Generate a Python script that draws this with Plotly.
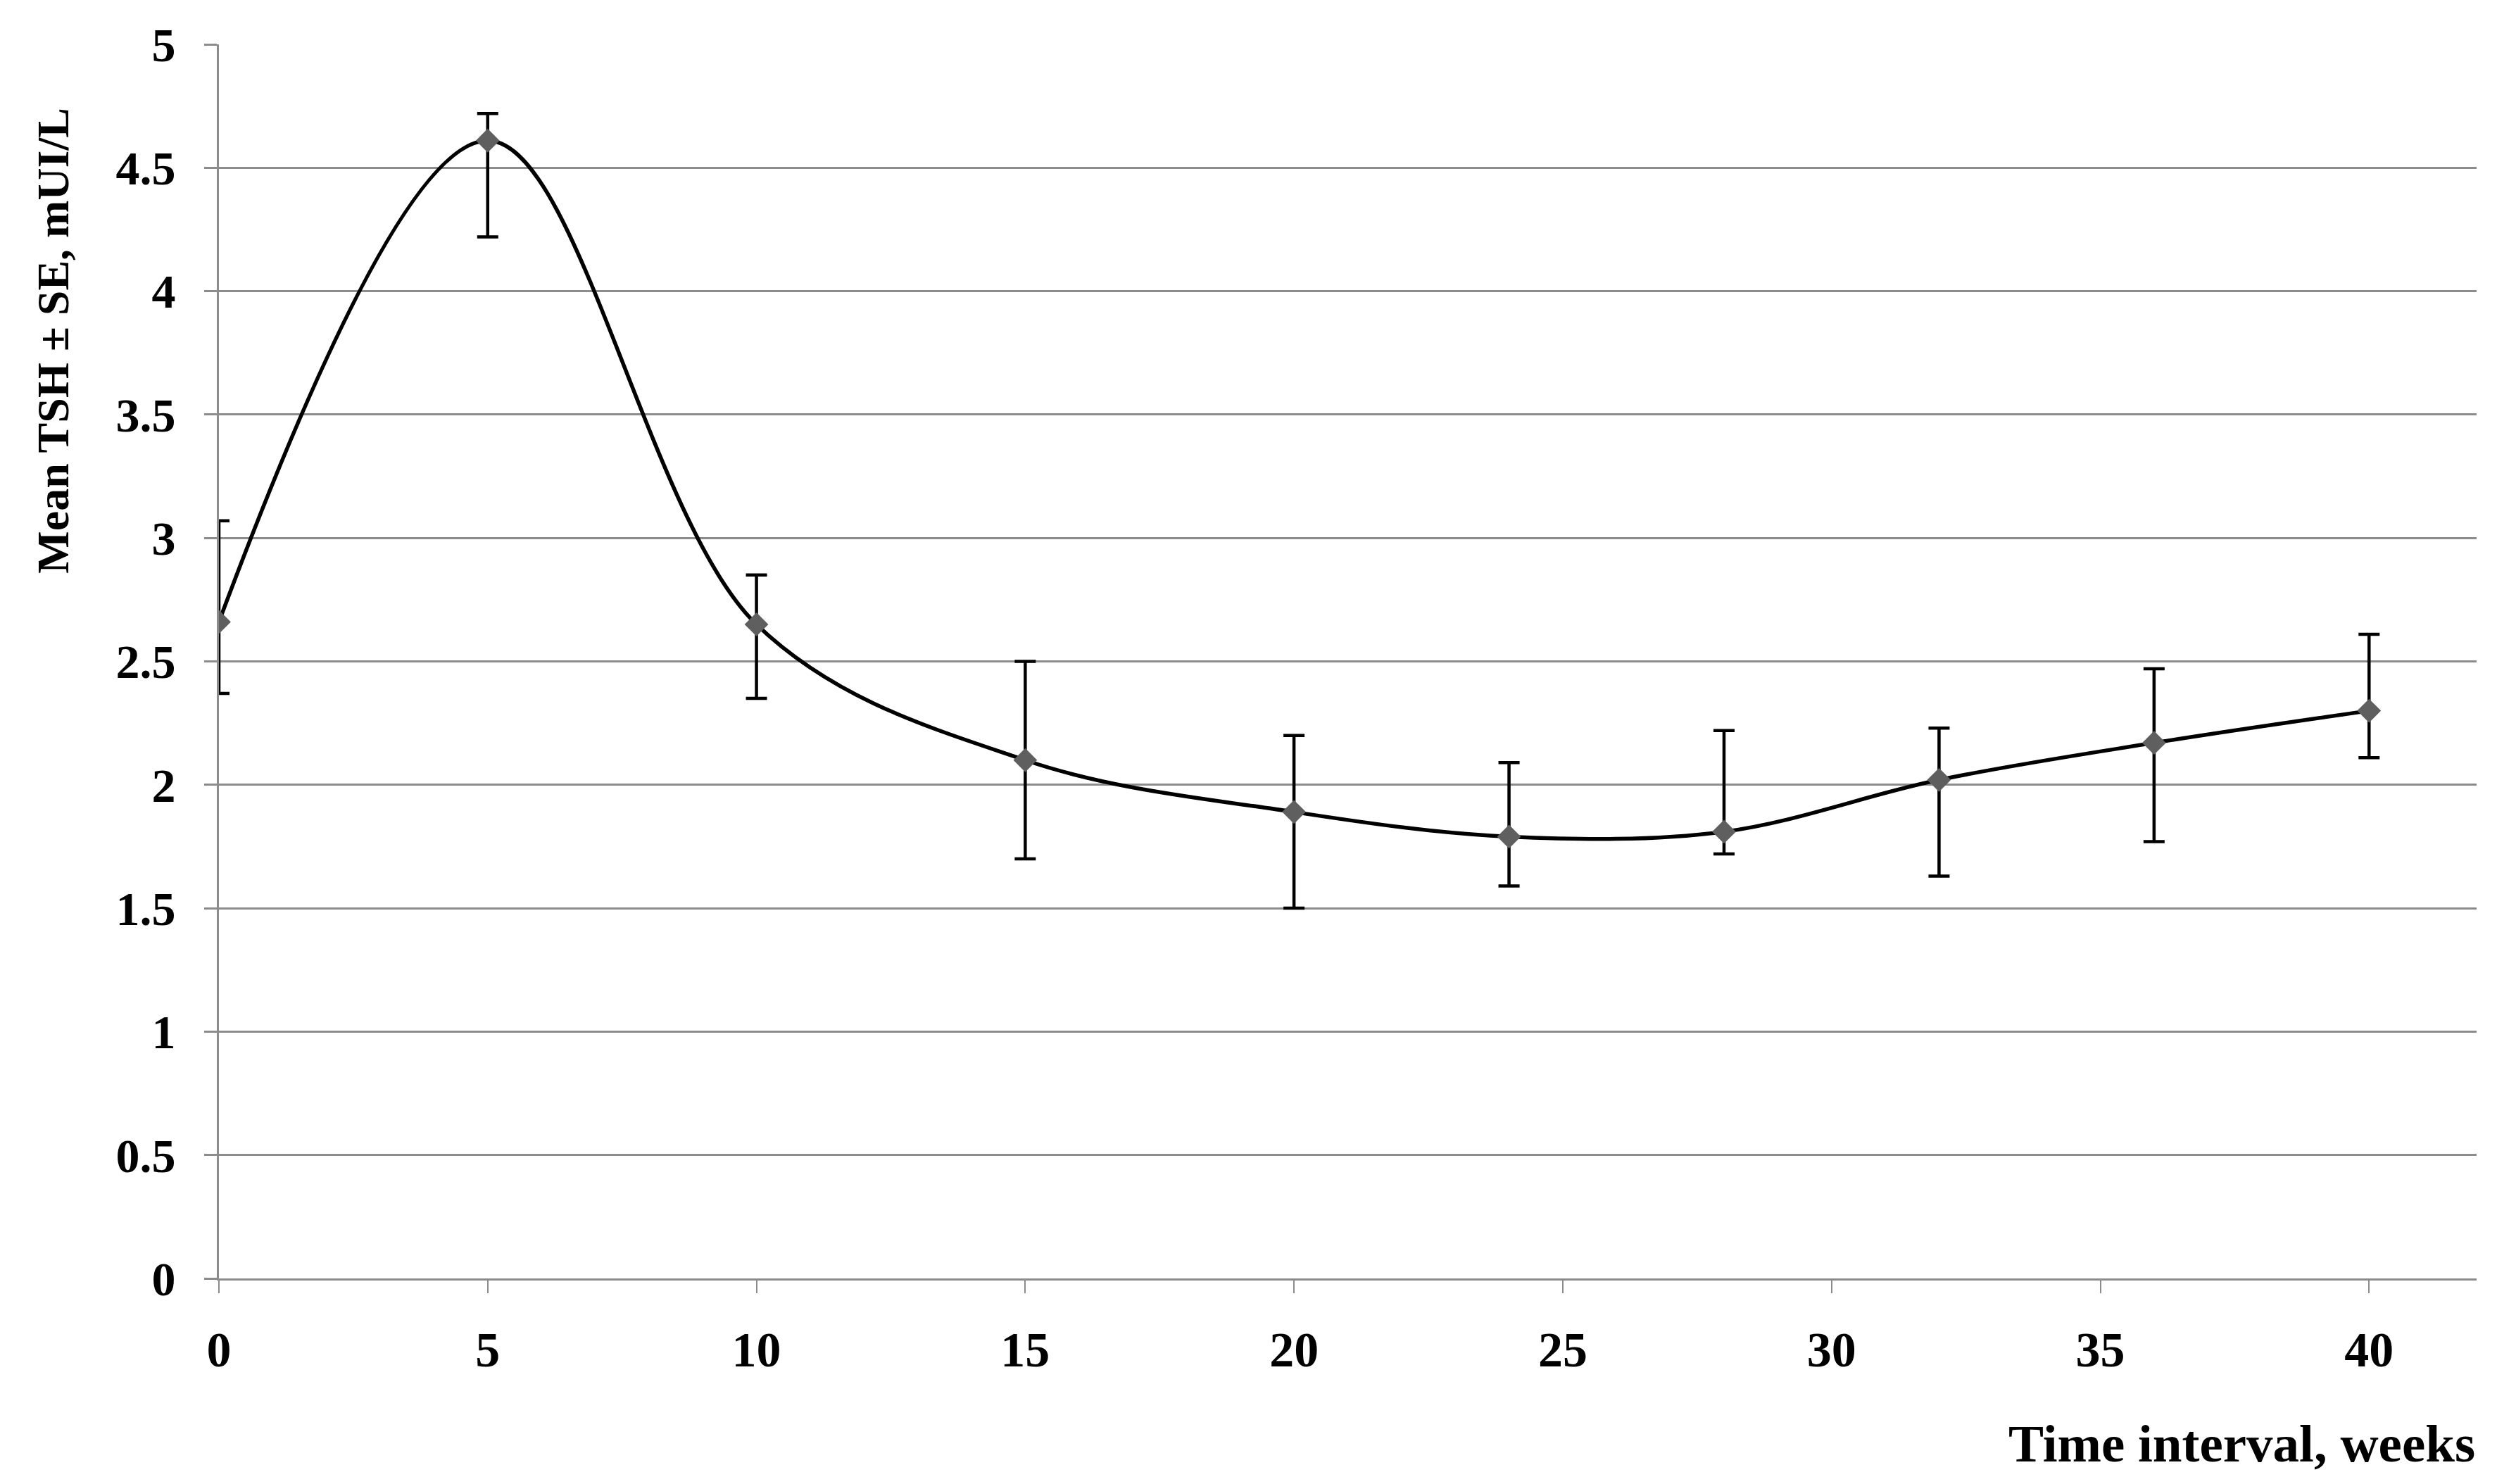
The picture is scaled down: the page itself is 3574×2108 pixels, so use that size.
import plotly.graph_objects as go

weeks = [0, 5, 10, 15, 20, 24, 28, 32, 36, 40]
tsh_mean = [2.66, 4.61, 2.65, 2.10, 1.89, 1.79, 1.81, 2.02, 2.17, 2.30]
err_plus = [0.41, 0.11, 0.20, 0.40, 0.31, 0.30, 0.41, 0.21, 0.30, 0.31]
err_minus = [0.29, 0.39, 0.30, 0.40, 0.39, 0.20, 0.09, 0.39, 0.40, 0.19]

x_ticks = [0, 5, 10, 15, 20, 25, 30, 35, 40]
y_ticks = [0, 0.5, 1, 1.5, 2, 2.5, 3, 3.5, 4, 4.5, 5]
y_tick_labels = ["0", "0.5", "1", "1.5", "2", "2.5", "3", "3.5", "4", "4.5", "5"]

x_title = "Time interval, weeks"
y_title = "Mean TSH ± SE, mUI/L"

FONT = "Liberation Serif"
GRID = "#8c8c8c"

fig = go.Figure()
fig.add_trace(go.Scatter(
    x=weeks, y=tsh_mean,
    mode="lines+markers",
    line=dict(color="black", width=5.5, shape="spline", smoothing=1.0),
    marker=dict(symbol="diamond", size=26, color="#5f5f5f"),
    error_y=dict(type="data", symmetric=False, array=err_plus, arrayminus=err_minus,
                 color="black", thickness=4.5, width=15),
    showlegend=False,
))

fig.update_layout(
    width=3574, height=2108,
    paper_bgcolor="white", plot_bgcolor="white",
    margin=dict(l=303, r=64, t=55, b=300),
    font=dict(family=FONT, size=54, color="black"),
    xaxis=dict(
        range=[0, 42], tickmode="array", tickvals=x_ticks,
        ticks="outside", ticklen=18, tickwidth=2, tickcolor=GRID,
        showgrid=False, zeroline=False,
        showline=True, linecolor=GRID, linewidth=3,
        tickfont=dict(family=FONT, size=70, color="black", weight="bold"),
        ticklabelstandoff=20,
    ),
    yaxis=dict(
        range=[0, 5], tickmode="array", tickvals=y_ticks, ticktext=y_tick_labels,
        ticks="outside", ticklen=18, tickwidth=3, tickcolor=GRID,
        showgrid=True, gridcolor=GRID, gridwidth=3,
        zeroline=False,
        showline=True, linecolor=GRID, linewidth=3,
        tickfont=dict(family=FONT, size=68, color="black", weight="bold"),
        ticklabelstandoff=27,
    ),
    annotations=[
        dict(text="<b>" + x_title + "</b>", xref="paper", yref="paper",
             x=1.0, y=-0.134, xanchor="right", yanchor="middle", showarrow=False,
             font=dict(family=FONT, size=75, color="black")),
        dict(text="<b>" + y_title + "</b>", xref="paper", yref="paper",
             x=-0.0733, y=0.76, xanchor="center", yanchor="middle", textangle=-90,
             showarrow=False, font=dict(family=FONT, size=64, color="black")),
    ],
)

fig.write_html("out.html")
